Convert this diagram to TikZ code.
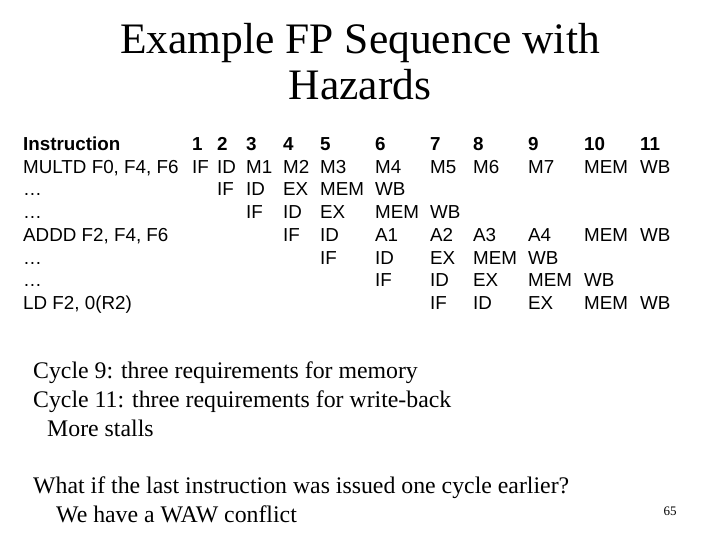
\documentclass[tikz,border=0pt]{standalone}
\usepackage{fontspec}
\setmainfont{Liberation Serif}
\newfontfamily\tabfont{Liberation Sans}
\begin{document}
\begin{tikzpicture}[x=1pt,y=-1pt,
  cell/.style={anchor=base west,inner sep=0pt,font=\tabfont\fontsize{18.8}{20}\selectfont},
  hd/.style={cell,font=\tabfont\bfseries\fontsize{18.8}{20}\selectfont},
  body/.style={anchor=base west,inner sep=0pt,font=\fontsize{23.8}{26}\selectfont}]
\useasboundingbox (0,0) rectangle (720,540);
\node[align=center,font=\fontsize{43.5}{46}\selectfont] (title) at (360,62) {Example FP Sequence with\\Hazards};
\def\cx{{192,217,246,283,320,375,430,473,528,584,640}}
\node[hd] (h0) at (23,150.5) {Instruction};
\foreach \i in {1,...,11}{\pgfmathsetmacro\xx{\cx[\i-1]}\node[hd] (h\i) at (\xx,150.5) {\i};}
\foreach \lab [count=\r] in {{MULTD F0, F4, F6},{\dots},{\dots},{ADDD F2, F4, F6},{\dots},{\dots},{LD F2, 0(R2)}}{
  \node[cell] (r\r) at (23,150.5+22.7*\r) {\lab};}
\foreach \r/\s/\list in {1/1/{IF,ID,M1,M2,M3,M4,M5,M6,M7,MEM,WB},2/2/{IF,ID,EX,MEM,WB},3/3/{IF,ID,EX,MEM,WB},4/4/{IF,ID,A1,A2,A3,A4,MEM,WB},5/5/{IF,ID,EX,MEM,WB},6/6/{IF,ID,EX,MEM,WB},7/7/{IF,ID,EX,MEM,WB}}{
  \foreach \t [count=\k] in \list {\pgfmathsetmacro\xx{\cx[\s+\k-2]}\node[cell] (c\r-\k) at (\xx,150.5+22.7*\r) {\t};}}
\node[body] (t1) at (33,378) {Cycle 9: three requirements for memory};
\node[body] (t2) at (33,407) {Cycle 11: three requirements for write-back};
\node[body] (t3) at (47,436) {More stalls};
\node[body] (t4) at (33,493) {What if the last instruction was issued one cycle earlier?};
\node[body] (t5) at (56,522) {We have a WAW conflict};
\node[anchor=center,inner sep=0pt,font=\fontsize{13}{14}\selectfont] (pg) at (670,511) {65};
\end{tikzpicture}
\end{document}
